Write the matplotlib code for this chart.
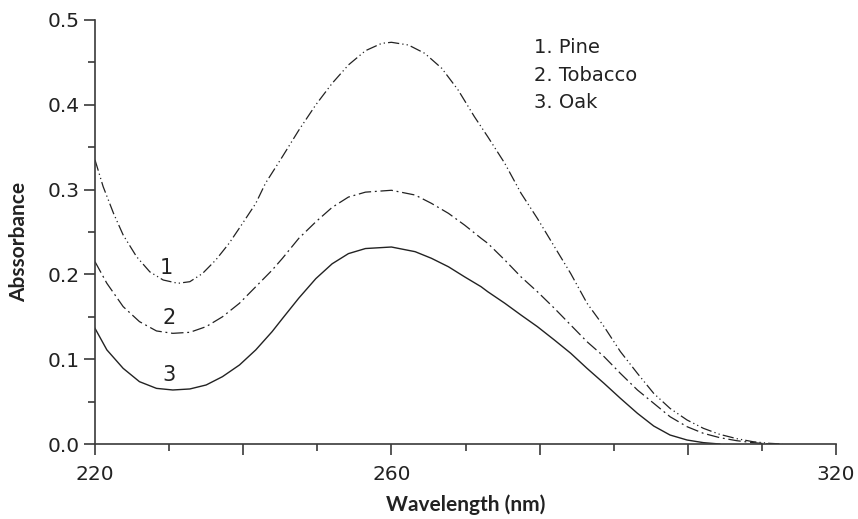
import numpy as np
import matplotlib
matplotlib.use('Agg')
import matplotlib.pyplot as plt
from matplotlib.ticker import MultipleLocator, FixedLocator

# absorbance spectra (wavelength nm, absorbance)
pine_x = [220, 221.1, 222.5, 223.8, 225.6, 227.4, 229.2, 231.2, 232.8, 234.5, 236.3, 238.1,
          239.9, 241.7, 243.0, 245.3, 247.5, 249.8, 252.0, 254.2, 256.5, 258.7, 260.0,
          262.3, 264.5, 266.8, 269.0, 271.2, 273.0, 275.3, 277.5, 279.7, 282.0, 284.2,
          286.4, 288.7, 290.9, 293.2, 295.4, 297.6, 299.9, 302.1, 304.3, 306.6, 308.8,
          311.0, 312.8]
pine_y = [0.335, 0.3035, 0.272, 0.2465, 0.221, 0.203, 0.1934, 0.1895, 0.1914, 0.201, 0.217, 0.2367,
          0.260, 0.2838, 0.3074, 0.339, 0.370, 0.400, 0.4253, 0.447, 0.4638, 0.4725, 0.4737,
          0.4705, 0.4607, 0.443, 0.4175, 0.386, 0.3624, 0.331, 0.2956, 0.266, 0.2327, 0.201,
          0.166, 0.1384, 0.109, 0.0833, 0.0597, 0.042, 0.0283, 0.0185, 0.0114, 0.0063, 0.0027,
          0.0008, 0.0]

tobacco_x = [220, 221.6, 223.8, 226.0, 228.3, 230.5, 232.8, 235.0, 237.2, 239.5, 241.7, 243.9,
             245.3, 247.5, 249.8, 252.0, 254.2, 256.5, 260.0, 263.2, 265.4, 267.7, 269.9,
             272.1, 273.0, 275.3, 277.5, 279.7, 282.0, 284.2, 286.4, 288.7, 290.9, 293.2,
             295.4, 297.6, 299.9, 302.1, 304.3, 306.6, 308.8, 311.0]
tobacco_y = [0.215, 0.1895, 0.162, 0.1443, 0.1333, 0.1305, 0.1317, 0.1384, 0.150, 0.166, 0.1855, 0.205,
             0.219, 0.2425, 0.262, 0.279, 0.2912, 0.2970, 0.2992, 0.2936, 0.2838, 0.272, 0.258,
             0.2426, 0.2367, 0.217, 0.197, 0.1796, 0.160, 0.1403, 0.1206, 0.103, 0.0833, 0.0637,
             0.048, 0.0322, 0.0204, 0.0126, 0.0075, 0.0039, 0.0016, 0.0]

oak_x = [220, 221.6, 223.8, 226.0, 228.3, 230.5, 232.8, 235.0, 237.2, 239.5, 241.7, 243.9,
         245.3, 247.5, 249.8, 252.0, 254.2, 256.5, 260.0, 263.2, 265.4, 267.7, 269.9, 272.1,
         273.0, 275.3, 277.5, 279.7, 282.0, 284.2, 286.4, 288.7, 290.9, 293.2, 295.4, 297.6,
         299.9, 302.1, 304.3]
oak_y = [0.1364, 0.111, 0.0892, 0.0735, 0.0656, 0.0637, 0.0649, 0.0696, 0.0794, 0.0932, 0.111, 0.1325,
         0.148, 0.172, 0.195, 0.2125, 0.2245, 0.2305, 0.2323, 0.2268, 0.219, 0.209, 0.197, 0.1855,
         0.1796, 0.166, 0.152, 0.1384, 0.1226, 0.107, 0.0892, 0.0715, 0.0539, 0.0362, 0.0212, 0.0106,
         0.0047, 0.0016, 0.0]

curve_labels = ['1', '2', '3']
label_pos = [(229.6, 0.2075), (230.0, 0.1486), (230.0, 0.081)]
legend_lines = ['1. Pine', '2. Tobacco', '3. Oak']

ink = '#222222'
axis_col = '#3a3a3a'
plt.rcParams['font.family'] = ['DejaVu Sans']

fig = plt.figure(figsize=(8.58, 5.19), dpi=100)
ax = fig.add_axes([95 / 858, 75 / 519, 741 / 858, 424 / 519])

ax.plot(pine_x, pine_y, color=ink, lw=0.9, dashes=(9, 2.5, 1, 2.5, 1, 2.5))
ax.plot(tobacco_x, tobacco_y, color=ink, lw=0.9, dashes=(10, 3, 1.5, 3))
ax.plot(oak_x, oak_y, color=ink, lw=1.0)

# curve numbers near the minima
for lab, (lx, ly) in zip(curve_labels, label_pos):
    ax.text(lx, ly, lab, ha='center', va='center', fontsize=15, color=ink)

# key in the upper right
for i, s in enumerate(legend_lines):
    ax.text(279.3, 0.467 - i * 0.032, s, ha='left', va='center', fontsize=14, color=ink)

ax.set_xlim(220, 320)
ax.set_ylim(0, 0.5)
ax.xaxis.set_major_locator(FixedLocator([220, 240, 260, 280, 300, 320]))
ax.xaxis.set_minor_locator(FixedLocator([230, 250, 270, 290, 310]))
ax.set_xticklabels(['220', '', '260', '', '', '320'])
ax.yaxis.set_major_locator(MultipleLocator(0.1))
ax.yaxis.set_minor_locator(MultipleLocator(0.05))
ax.yaxis.set_major_formatter(plt.FuncFormatter(lambda v, p: '%.1f' % v))

for side in ['top', 'right']:
    ax.spines[side].set_visible(False)
for side in ['left', 'bottom']:
    ax.spines[side].set_linewidth(1.2)
    ax.spines[side].set_color(axis_col)

ax.tick_params(which='major', length=8, width=1.2, color=axis_col, labelsize=14.5, labelcolor=ink)
ax.tick_params(axis='y', which='major', pad=3)
ax.tick_params(axis='x', which='major', pad=7)
ax.tick_params(which='minor', length=5, width=1.2, color=axis_col)

# axis titles (the original spells it "Abssorbance")
fig.text(466 / 858, 1 - 505 / 519, 'Wavelength (nm)', ha='center', va='center',
         fontsize=15, fontweight='bold', color=ink, family=['Lato', 'DejaVu Sans'])
fig.text(19 / 858, 1 - 242 / 519, 'Abssorbance', ha='center', va='center', rotation=90,
         fontsize=15, fontweight='bold', color=ink, family=['Lato', 'DejaVu Sans'])

fig.savefig('out.png', dpi=100)
